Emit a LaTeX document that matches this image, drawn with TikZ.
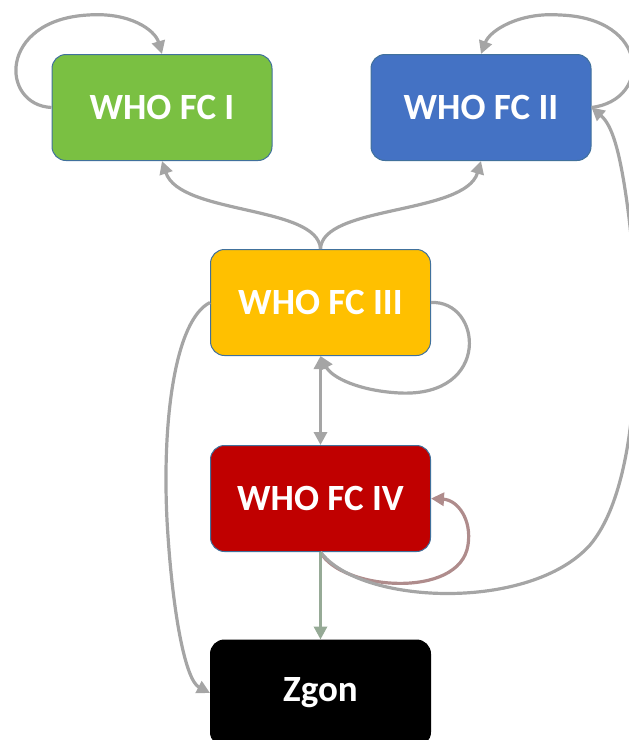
\documentclass[tikz,border=0pt]{standalone}
\usepackage{fontspec}
\setmainfont{Carlito}
\usetikzlibrary{arrows.meta}
\definecolor{fcgreen}{RGB}{122,192,66}
\definecolor{fcblue}{RGB}{68,114,196}
\definecolor{fcgold}{RGB}{255,192,0}
\definecolor{fcred}{RGB}{192,0,0}
\definecolor{fcedge}{RGB}{65,113,156}
\definecolor{flowgray}{RGB}{165,165,165}
\begin{document}
\begin{tikzpicture}[x=1pt, y=1pt,
    box/.style={rectangle, rounded corners=14pt, draw=fcedge, line width=1pt,
        minimum width=220pt, minimum height=106pt, text=white,
        font=\fontsize{37}{40}\selectfont\bfseries},
    flow/.style={draw=flowgray, line width=3.2pt, -{Triangle[length=13pt,width=13pt]}}]
\useasboundingbox (0,0) rectangle (629,-740);
\node[box, fill=fcgreen] (who1) at (162,-107.5) {WHO FC I};
\node[box, fill=fcblue] (who2) at (481,-107.5) {WHO FC II};
\node[box, fill=fcgold] (who3) at (320.5,-302.5) {WHO FC III};
\node[box, fill=fcred] (who4) at (320.5,-498.5) {WHO FC IV};
\node[box, fill=black, draw=black] (zgon) at (320.5,-693) {Zgon};
% self loops
\draw[flow] (who1.west) .. controls (0,-105) and (-2,-20) .. (88,-15)
    .. controls (130,-12) and (155,-30) .. (who1.north);
\draw[flow] (who2.east) .. controls (652,-100) and (650,-18) .. (560,-15)
    .. controls (520,-12) and (490,-30) .. (who2.north);
\draw[flow] (who3.east) .. controls (482,-300) and (492,-397) .. (400,-393)
    .. controls (360,-391) and (332,-378) .. (who3.south);
\draw[flow, draw={rgb,255:red,175;green,140;blue,140}] (who4.south)
    .. controls (340,-590) and (460,-600) .. (468,-545)
    .. controls (472,-520) and (458,-500) .. (who4.east);
% between the stages
\draw[flow] (who3.north) .. controls (318,-205) and (180,-215) .. (who1.south);
\draw[flow] (who3.north) .. controls (322,-205) and (465,-215) .. (who2.south);
\draw[flow, {Triangle[length=13pt,width=13pt]}-{Triangle[length=13pt,width=13pt]}] (who3.south) -- (who4.north);
\draw[flow] (who3.west) .. controls (175,-320) and (162,-420) .. (167,-520)
    .. controls (172,-610) and (185,-680) .. (zgon.west);
\draw[flow] (who4.south) .. controls (360,-605) and (530,-612) .. (590,-545)
    .. controls (645,-480) and (640,-300) .. (628,-210)
    .. controls (620,-150) and (612,-125) .. (who2.east);
\draw[flow, draw={rgb,255:red,150;green,170;blue,150}] (who4.south) -- (zgon.north);
\end{tikzpicture}
\end{document}
